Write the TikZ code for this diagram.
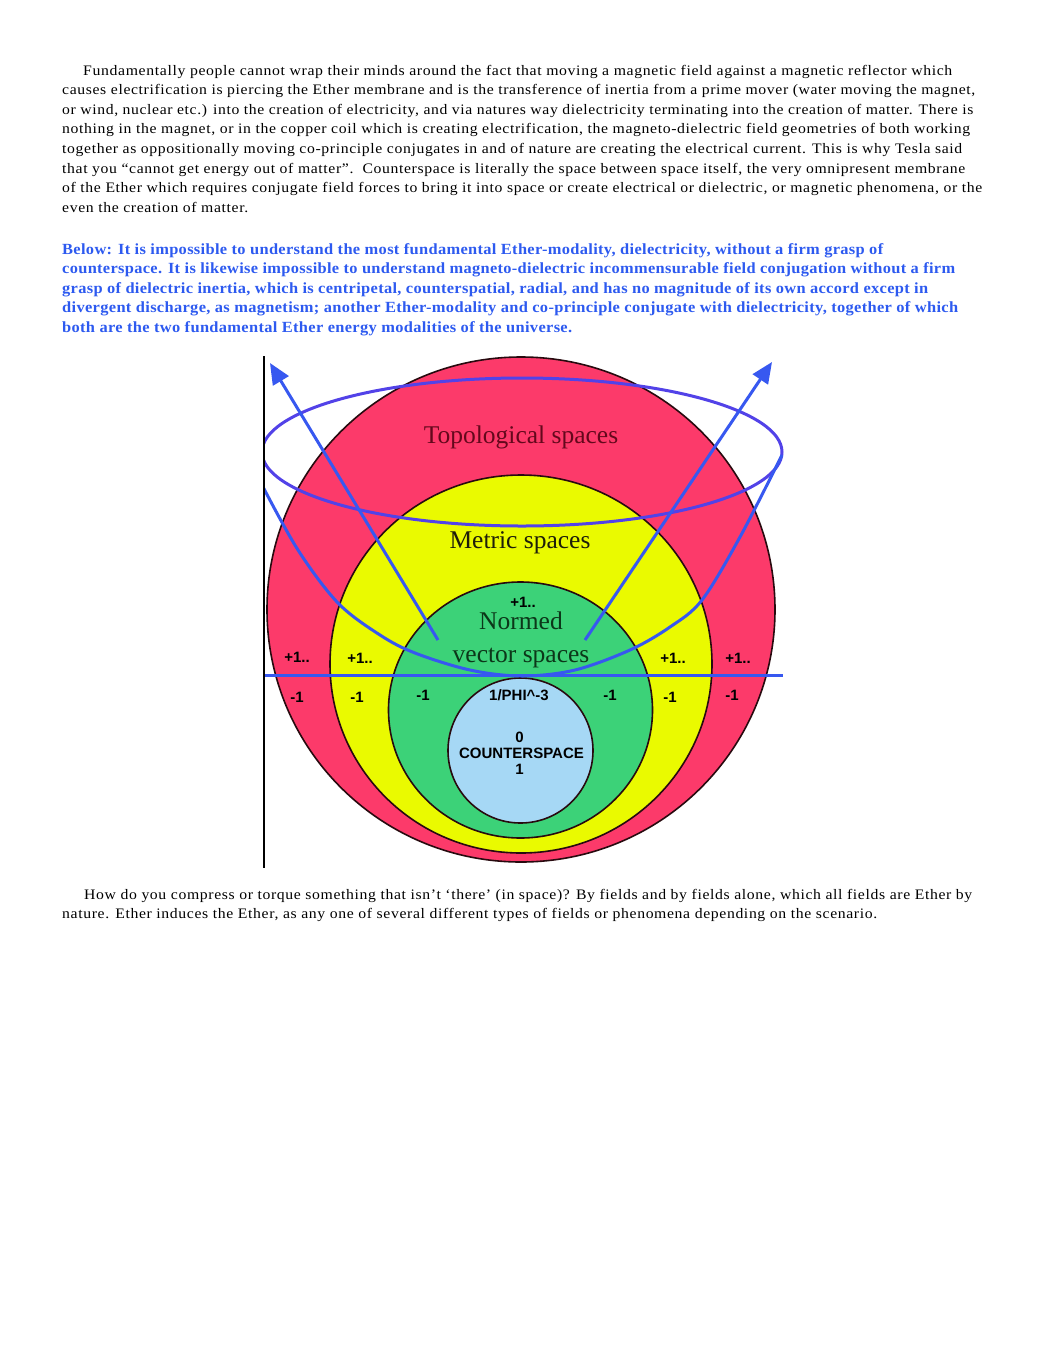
\documentclass[tikz,border=0pt]{standalone}
\usepackage{fontspec}
\usepackage{graphicx}
\setmainfont{Liberation Serif}
\newfontfamily\bodyfont{Liberation Serif}[LetterSpace=4]
\newfontfamily\bluefont{Liberation Serif}[LetterSpace=2]
\newfontfamily\labfont{Liberation Sans}
\usetikzlibrary{arrows.meta}
\definecolor{ringred}{RGB}{252,58,106}
\definecolor{ringyellow}{RGB}{234,250,0}
\definecolor{ringgreen}{RGB}{60,210,120}
\definecolor{ringblue}{RGB}{166,216,245}
\definecolor{overblue}{RGB}{55,88,240}
\definecolor{ellblue}{RGB}{82,66,232}
\definecolor{parablue}{RGB}{45,90,240}
\definecolor{topotext}{RGB}{100,8,28}
\definecolor{metrictext}{RGB}{30,30,10}
\definecolor{normtext}{RGB}{12,55,25}
\definecolor{ringline}{RGB}{40,10,15}
\newcommand\txtline[5]{\node[anchor=base west, inner sep=0pt] (#1) at (#2,#3) {\resizebox{#4pt}{\height}{#5}};}
\begin{document}
\begin{tikzpicture}[x=1pt,y=-1pt,
  bodytext/.style={font=\bodyfont\fontsize{14.5}{16}\selectfont, text=black},
  bluetext/.style={font=\bluefont\bfseries\fontsize{15.5}{18}\selectfont, text=parablue},
  bigtext/.style={font=\rmfamily\fontsize{25.5}{30}\selectfont, inner sep=0pt, anchor=base},
  lab/.style={font=\labfont\bfseries\fontsize{15}{17}\selectfont, inner sep=0pt, anchor=base},
  ring/.style={draw=ringline, line width=1.6pt},
  overline/.style={draw=overblue, line width=3pt},
  arrowline/.style={draw=overblue, line width=3pt, -{Triangle[length=21pt,width=18pt]}},
]
\path[use as bounding box, fill=white] (0,0) rectangle (1046,1353);

% ---------- paragraph 1 ----------
\begin{scope}[bodytext]
\txtline{a1}{83}{75}{869}{Fundamentally people cannot wrap their minds around the fact that moving a magnetic field against a magnetic reflector which}
\txtline{a2}{62}{94.6}{913}{causes electrification is piercing the Ether membrane and is the transference of inertia from a prime mover (water moving the magnet,}
\txtline{a3}{62}{114.2}{911}{or wind, nuclear etc.) into the creation of electricity, and via natures way dielectricity terminating into the creation of matter. There is}
\txtline{a4}{62}{133.8}{908}{nothing in the magnet, or in the copper coil which is creating electrification, the magneto-dielectric field geometries of both working}
\txtline{a5}{62}{153.4}{900}{together as oppositionally moving co-principle conjugates in and of nature are creating the electrical current. This is why Tesla said}
\txtline{a6}{62}{173}{903}{that you “cannot get energy out of matter”.\ \ Counterspace is literally the space between space itself, the very omnipresent membrane}
\txtline{a7}{62}{192.6}{920}{of the Ether which requires conjugate field forces to bring it into space or create electrical or dielectric, or magnetic phenomena, or the}
\txtline{a8}{62}{212.2}{186}{even the creation of matter.}
\end{scope}

% ---------- blue paragraph ----------
\begin{scope}[bluetext]
\txtline{b1}{62}{254}{821}{Below: It is impossible to understand the most fundamental Ether-modality, dielectricity, without a firm grasp of}
\txtline{b2}{62}{273.5}{893}{counterspace. It is likewise impossible to understand magneto-dielectric incommensurable field conjugation without a firm}
\txtline{b3}{62}{293}{866}{grasp of dielectric inertia, which is centripetal, counterspatial, radial, and has no magnitude of its own accord except in}
\txtline{b4}{62}{312.5}{896}{divergent discharge, as magnetism; another Ether-modality and co-principle conjugate with dielectricity, together of which}
\txtline{b5}{62}{332}{510}{both are the two fundamental Ether energy modalities of the universe.}
\end{scope}

% ---------- last paragraph ----------
\begin{scope}[bodytext]
\txtline{c1}{84}{899}{888}{How do you compress or torque something that isn’t ‘there’ (in space)? By fields and by fields alone, which all fields are Ether by}
\txtline{c2}{62}{918.6}{815}{nature. Ether induces the Ether, as any one of several different types of fields or phenomena depending on the scenario.}
\end{scope}

% ---------- diagram ----------
\fill[ringred] (521,609.5) ellipse [x radius=254pt, y radius=252.5pt];
\draw[ring] (521,609.5) ellipse [x radius=254pt, y radius=252.5pt];
\fill[ringyellow] (521,664) ellipse [x radius=191pt, y radius=189pt];
\draw[ring] (521,664) ellipse [x radius=191pt, y radius=189pt];
\fill[ringgreen] (520.5,710) ellipse [x radius=132pt, y radius=128pt];
\draw[ring] (520.5,710) ellipse [x radius=132pt, y radius=128pt];
\fill[ringblue] (520.5,750.5) ellipse [x radius=72.5pt, y radius=72.5pt];
\draw[ring] (520.5,750.5) ellipse [x radius=72.5pt, y radius=72.5pt];

\node[bigtext, text=topotext] (topo) at (521,443) {Topological spaces};
\node[bigtext, text=metrictext] (metric) at (520,548) {Metric spaces};
\node[bigtext, text=normtext] (normed) at (521,629) {Normed};
\node[bigtext, text=normtext] (vector) at (521,662) {vector spaces};

\node[lab] (p1) at (297,662.5) {+1..};
\node[lab] (p2) at (360,663.5) {+1..};
\node[lab] (p3) at (523,607) {+1..};
\node[lab] (p4) at (673,663.5) {+1..};
\node[lab] (p5) at (738,663.5) {+1..};
\node[lab] (m1) at (297,702) {-1};
\node[lab] (m2) at (357,702) {-1};
\node[lab] (m3) at (423,700.5) {-1};
\node[lab] (m4) at (610,700.5) {-1};
\node[lab] (m5) at (670,702.5) {-1};
\node[lab] (m6) at (732,700.5) {-1};
\node[lab] (phi) at (519,700.5) {1/PHI\textasciicircum-3};
\node[lab] (zero) at (519.5,742) {0};
\node[lab] (cs) at (521.5,758) {COUNTERSPACE};
\node[lab] (one) at (519.5,774.5) {1};

% blue overlay
\coordinate (lt) at (438,640);
\coordinate (lh) at (270,363);
\coordinate (rt) at (585,640);
\coordinate (rh) at (772,362);
\coordinate (hl) at (264,675.5);
\coordinate (hr) at (783,675.5);
\begin{scope}
\clip (264,350) rectangle (785,872);
\draw[draw=ellblue, line width=3pt] (522,452) ellipse [x radius=260pt, y radius=74pt];
\draw[overline] plot[smooth, tension=0.55] coordinates {(262,485) (298,550) (338,603) (380,635) (415,653) (470,670) (522,676) (575,670) (630,650) (670,627) (702,600) (740,537) (782,455)};
\draw[overline] (hl) -- (hr);
\draw[arrowline] (lt) -- (lh);
\draw[arrowline] (rt) -- (rh);
\end{scope}
\coordinate (vt) at (264,356);
\coordinate (vb) at (264,868);
\draw[black, line width=2pt] (vt) -- (vb);
\end{tikzpicture}
\end{document}
